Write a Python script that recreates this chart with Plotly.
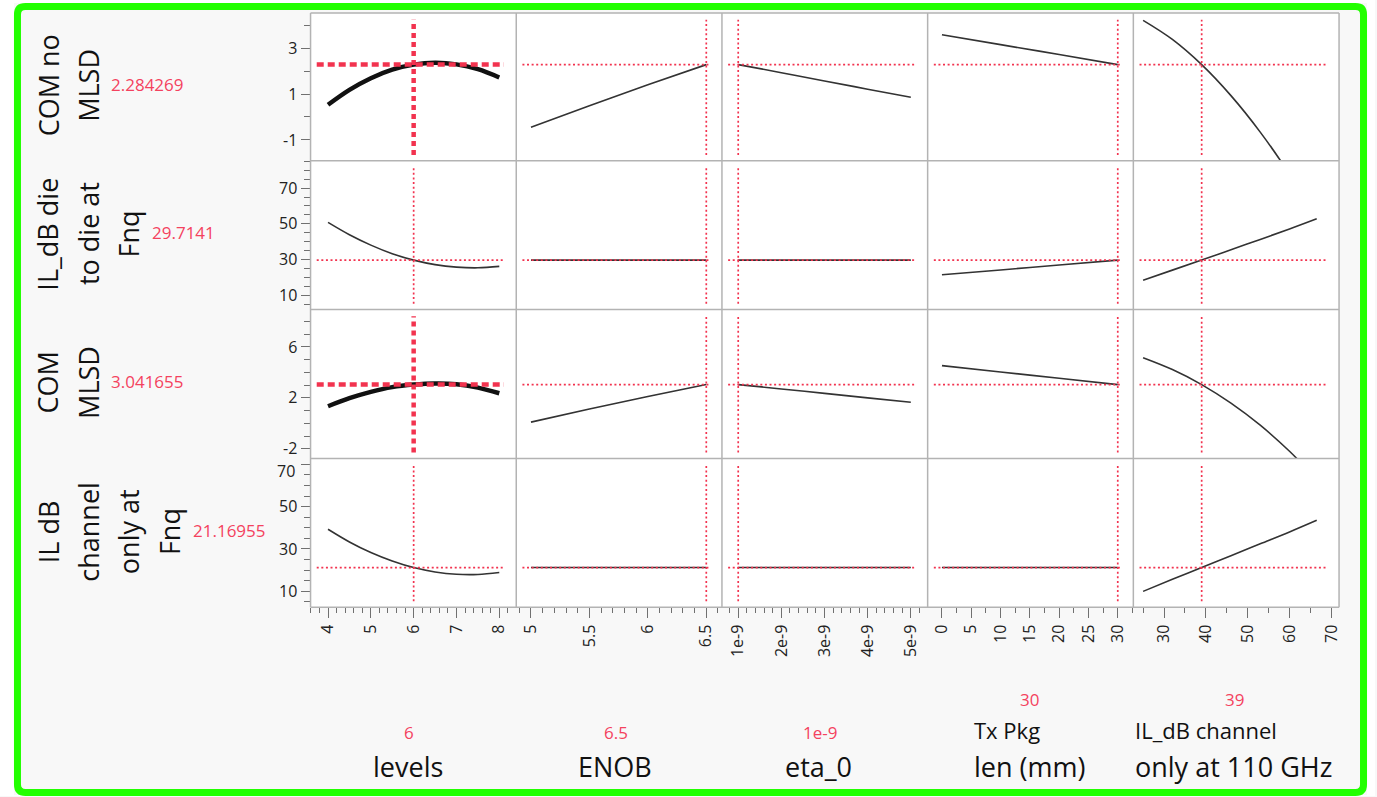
import plotly.graph_objects as go

W, H = 1377, 797

# ---------------- data ----------------
factor_labels = ["levels", "ENOB", "eta_0", "Tx Pkg|len (mm)", "IL_dB channel|only at 110 GHz"]
factor_current = [6, 6.5, 1e-9, 30, 39]
factor_current_text = ["6", "6.5", "1e-9", "30", "39"]

response_labels = [["COM no", "MLSD"], ["IL_dB die", "to die at", "Fnq"],
                   ["COM", "MLSD"], ["IL dB", "channel", "only at", "Fnq"]]
response_current = [2.284269, 29.7141, 3.041655, 21.16955]
response_current_text = ["2.284269", "29.7141", "3.041655", "21.16955"]

levels_x = [4, 4.5, 5, 5.5, 6, 6.5, 7, 7.5, 8]
enob_x = [5.0, 5.5, 6.0, 6.5]
eta_x = [1e-9, 2e-9, 3e-9, 4e-9, 5e-9]
txpkg_x = [0, 10, 20, 30]
ilch_x = [25, 32, 39, 46, 53, 60, 66.5]
factor_x = [levels_x, enob_x, eta_x, txpkg_x, ilch_x]

com_no_mlsd = [
    [0.53, 1.18, 1.69, 2.06, 2.28, 2.36, 2.29, 2.08, 1.72],
    [-0.45, 0.49, 1.40, 2.28],
    [2.28, 1.93, 1.57, 1.21, 0.86],
    [3.58, 3.15, 2.72, 2.28],
    [4.21, 3.38, 2.28, 0.93, -0.66, -2.50, -4.50],
]
il_die_to_die = [
    [50.8, 43.9, 38.1, 33.3, 29.71, 27.2, 25.8, 25.4, 26.2],
    [29.71, 29.71, 29.71, 29.71],
    [29.71, 29.71, 29.71, 29.71, 29.71],
    [21.5, 24.2, 27.0, 29.71],
    [18.5, 24.1, 29.71, 35.5, 41.3, 47.1, 52.8],
]
com_mlsd = [
    [1.34, 1.97, 2.47, 2.84, 3.04, 3.13, 3.07, 2.80, 2.36],
    [0.09, 1.12, 2.10, 3.04],
    [3.04, 2.70, 2.35, 2.00, 1.65],
    [4.53, 4.03, 3.54, 3.04],
    [5.15, 4.22, 3.04, 1.58, -0.15, -2.20, -4.40],
]
il_channel = [
    [39.3, 33.3, 28.3, 24.3, 21.17, 19.1, 18.0, 17.9, 18.8],
    [21.17, 21.17, 21.17, 21.17],
    [21.17, 21.17, 21.17, 21.17, 21.17],
    [21.17, 21.17, 21.17, 21.17],
    [9.9, 15.6, 21.17, 26.8, 32.4, 38.0, 43.5],
]
responses = [com_no_mlsd, il_die_to_die, com_mlsd, il_channel]

# axis settings
col_px = [311, 517, 723, 929, 1135, 1341]
row_px = [13, 161, 310, 459, 608]
x_ranges = [[3.592, 8.396], [4.874, 6.634], [0.623e-9, 5.39e-9], [-2.44, 32.66], [22.67, 71.84]]
x_tickvals = [[4, 5, 6, 7, 8], [5, 5.5, 6, 6.5], [1e-9, 2e-9, 3e-9, 4e-9, 5e-9],
              [0, 5, 10, 15, 20, 25, 30], [30, 40, 50, 60, 70]]
x_ticktext = [["4", "5", "6", "7", "8"], ["5", "5.5", "6", "6.5"],
              ["1e-9", "2e-9", "3e-9", "4e-9", "5e-9"],
              ["0", "5", "10", "15", "20", "25", "30"], ["30", "40", "50", "60", "70"]]
x_minor = [0.2, 0.1, 0.2e-9, 2.5, 5]
y_ranges = [[-1.91, 4.53], [2.0, 85.3], [-2.76, 8.93], [2.4, 72.8]]
y_tickvals = [[-1, 1, 3], [10, 30, 50, 70], [-2, 2, 6], [10, 30, 50, 70]]
y_ticktext = [["-1", "1", "3"], ["10", "30", "50", "70"], ["-2", "2", "6"], ["10", "30", "50", ""]]
y_minor = [1, 5, 1, 5]

FONT = "Open Sans, Noto Sans, DejaVu Sans, sans-serif"
RED = "#f2334f"
RED_TXT = "#f4425e"
BORDER = "#b3b3b3"
TICKC = "#707070"

fig = go.Figure()
layout = dict(width=W, height=H, margin=dict(l=0, r=0, t=0, b=0),
              paper_bgcolor="#f8f8f8", plot_bgcolor="white", showlegend=False,
              font=dict(family=FONT, color="#111"))
shapes = []
annotations = []

for r in range(4):
    for c in range(5):
        n = r * 5 + c + 1
        sfx = "" if n == 1 else str(n)
        xa = dict(domain=[col_px[c] / W, col_px[c + 1] / W], range=x_ranges[c],
                  anchor="y" + sfx, showline=False, showgrid=False, zeroline=False,
                  fixedrange=True)
        if r == 3:
            xa.update(ticks="outside", ticklen=10, tickwidth=1, tickcolor=TICKC,
                      tickmode="array", tickvals=x_tickvals[c], ticktext=x_ticktext[c],
                      tickangle=-90, tickfont=dict(size=16, color="#222"),
                      minor=dict(ticks="outside", ticklen=5, tickcolor=TICKC,
                                 tickmode="linear", tick0=0, dtick=x_minor[c]))
        else:
            xa.update(ticks="", showticklabels=False)
        ya = dict(domain=[1 - row_px[r + 1] / H, 1 - row_px[r] / H], range=y_ranges[r],
                  anchor="x" + sfx, showline=False, showgrid=False, zeroline=False,
                  fixedrange=True)
        if c == 0:
            ya.update(ticks="outside", ticklen=9, tickwidth=1, tickcolor=TICKC,
                      tickmode="array", tickvals=y_tickvals[r], ticktext=y_ticktext[r],
                      tickfont=dict(size=16, color="#222"),
                      minor=dict(ticks="outside", ticklen=6, tickcolor=TICKC,
                                 tickmode="linear", tick0=0, dtick=y_minor[r]))
        else:
            ya.update(ticks="", showticklabels=False)
        layout["xaxis" + sfx] = xa
        layout["yaxis" + sfx] = ya

        thick = (c == 0 and r in (0, 2))
        fig.add_trace(go.Scatter(
            x=factor_x[c], y=responses[r][c], mode="lines",
            line=dict(color="#111" if thick else "#333", width=4.5 if thick else 1.6,
                      shape="spline", smoothing=1.0),
            xaxis="x" + sfx, yaxis="y" + sfx, hoverinfo="skip"))

        lw = 4.5 if thick else 1.7
        dash_h = "7px,4px" if thick else "2px,2.6px"
        dash_v = "5px,4px" if thick else "2px,2.6px"
        shapes.append(dict(type="line", xref="x" + sfx + " domain", yref="y" + sfx,
                           x0=0.03, x1=0.94, y0=response_current[r], y1=response_current[r],
                           line=dict(color=RED, width=lw, dash=dash_h)))
        shapes.append(dict(type="line", xref="x" + sfx, yref="y" + sfx + " domain",
                           x0=factor_current[c], x1=factor_current[c], y0=0.04, y1=0.955,
                           line=dict(color=RED, width=lw, dash=dash_v)))

# cell borders
for xp in col_px:
    shapes.append(dict(type="line", xref="paper", yref="paper", x0=xp / W, x1=xp / W,
                       y0=1 - row_px[-1] / H, y1=1 - row_px[0] / H,
                       line=dict(color=BORDER, width=1.5)))
for yp in row_px:
    shapes.append(dict(type="line", xref="paper", yref="paper", x0=col_px[0] / W,
                       x1=col_px[-1] / W, y0=1 - yp / H, y1=1 - yp / H,
                       line=dict(color=BORDER, width=1.5)))

# the top "70" label of the last row sits a little below its tick, as in the original
annotations.append(dict(text="70", xref="paper", yref="paper", x=297 / W, y=1 - 471.5 / H,
                        xanchor="right", yanchor="middle", showarrow=False,
                        font=dict(size=16, color="#222", family=FONT)))

# response titles (rotated) and current values
line_x = [48, 88.5, 129, 170]
for r in range(4):
    yc = (row_px[r] + row_px[r + 1]) / 2 - 1.5
    lines = response_labels[r]
    for i, t in enumerate(lines):
        annotations.append(dict(text=t, xref="paper", yref="paper",
                                x=line_x[i] / W, y=1 - yc / H, xanchor="center",
                                yanchor="middle", textangle=-90, showarrow=False,
                                font=dict(size=27, color="#111", family=FONT)))
    vx = line_x[len(lines) - 1] + 21
    annotations.append(dict(text=response_current_text[r], xref="paper", yref="paper",
                            x=vx / W, y=1 - (yc - 1) / H, xanchor="left", yanchor="middle",
                            showarrow=False, font=dict(size=17, color=RED_TXT, family=FONT)))

# factor titles and current values
for c in range(5):
    label = factor_labels[c]
    if "|" in label:
        l1, l2 = label.split("|")
        left = [973, 1135][c - 3]
        right = [1088, 1338][c - 3]
        annotations.append(dict(text=l1, xref="paper", yref="paper", x=left / W,
                                y=1 - 731 / H, xanchor="left", yanchor="middle",
                                showarrow=False, font=dict(size=22, color="#111", family=FONT)))
        annotations.append(dict(text=l2, xref="paper", yref="paper", x=left / W,
                                y=1 - 767 / H, xanchor="left", yanchor="middle",
                                showarrow=False, font=dict(size=27, color="#111", family=FONT)))
        annotations.append(dict(text=factor_current_text[c], xref="paper", yref="paper",
                                x=(left + right) / 2 / W, y=1 - 700 / H, xanchor="center",
                                yanchor="middle", showarrow=False,
                                font=dict(size=17, color=RED_TXT, family=FONT)))
    else:
        cx = [409, 616, 820][c]
        annotations.append(dict(text=label, xref="paper", yref="paper", x=cx / W,
                                y=1 - 767 / H, xanchor="center", yanchor="middle",
                                showarrow=False, font=dict(size=27, color="#111", family=FONT)))
        annotations.append(dict(text=factor_current_text[c], xref="paper", yref="paper",
                                x=(cx + 1) / W, y=1 - 733 / H, xanchor="center",
                                yanchor="middle", showarrow=False,
                                font=dict(size=17, color=RED_TXT, family=FONT)))

# white outside area and green frame
for (x0, y0, x1, y1) in [(0, 0, 14, H), (0, 0, W, 3), (1369, 0, W, H), (0, 796, W, H)]:
    shapes.append(dict(type="rect", xref="paper", yref="paper", x0=x0 / W, x1=x1 / W,
                       y0=1 - y1 / H, y1=1 - y0 / H, fillcolor="white",
                       line=dict(width=0), layer="below"))


def px(x, y):
    return f"{x / W:.6f},{1 - y / H:.6f}"


fx0, fy0, fx1, fy1, rr = 17.5, 6.5, 1365.5, 793.5, 8
path = (f"M{px(fx0 + rr, fy0)} L{px(fx1 - rr, fy0)} Q{px(fx1, fy0)} {px(fx1, fy0 + rr)} "
        f"L{px(fx1, fy1 - rr)} Q{px(fx1, fy1)} {px(fx1 - rr, fy1)} "
        f"L{px(fx0 + rr, fy1)} Q{px(fx0, fy1)} {px(fx0, fy1 - rr)} "
        f"L{px(fx0, fy0 + rr)} Q{px(fx0, fy0)} {px(fx0 + rr, fy0)} Z")
shapes.append(dict(type="path", xref="paper", yref="paper", path=path,
                   line=dict(color="#22ff00", width=7)))

layout["shapes"] = shapes
layout["annotations"] = annotations
fig.update_layout(**layout)
fig.write_html("out.html")
